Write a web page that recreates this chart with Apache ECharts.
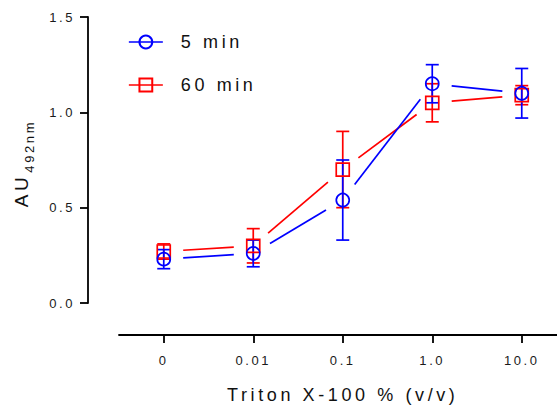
<!DOCTYPE html>
<html><head><meta charset="utf-8">
<script src="https://cdn.jsdelivr.net/npm/echarts@6/dist/echarts.min.js"></script>
<style>
html,body{margin:0;padding:0;background:#fff;}
#chart{width:557px;height:407px;}
#chart text{letter-spacing:0.2em;}
</style></head><body><div id="chart"></div>
<script>
// ---- data ----
const categories = ['0', '0.01', '0.1', '1.0', '10.0'];
const seriesNames = ['5 min', '60 min'];
const mean5 = [0.23, 0.26, 0.54, 1.15, 1.10];
const err5 = [0.05, 0.07, 0.21, 0.10, 0.13];
const mean60 = [0.27, 0.30, 0.70, 1.05, 1.09];
const err60 = [0.04, 0.09, 0.20, 0.10, 0.05];
const yTicks = [0.0, 0.5, 1.0, 1.5];

const BLUE = '#0000ff', RED = '#ff0000';
const FONT = 'Arial, "Liberation Sans", sans-serif';
const LW = 1.7;

function segData(m) { const d = []; for (let i = 0; i < m.length - 1; i++) d.push([i, m[i], m[i + 1]]); return d; }
function errData(m, e) { return m.map((v, i) => [i, v - e[i], v + e[i]]); }

function segRender(color) {
  return function (params, api) {
    const p1 = api.coord([api.value(0), api.value(1)]);
    const p2 = api.coord([api.value(0) + 1, api.value(2)]);
    const dx = p2[0] - p1[0], dy = p2[1] - p1[1], L = Math.hypot(dx, dy);
    const g = 19.5;
    if (L <= 2 * g) return;
    const ux = dx / L, uy = dy / L;
    return { type: 'line', shape: { x1: p1[0] + ux * g, y1: p1[1] + uy * g, x2: p2[0] - ux * g, y2: p2[1] - uy * g },
      style: { stroke: color, lineWidth: LW } };
  };
}
function errRender(color) {
  return function (params, api) {
    const x = api.value(0);
    const lo = api.coord([x, api.value(1)]);
    const hi = api.coord([x, api.value(2)]);
    const h = 6.5, st = { stroke: color, lineWidth: LW };
    return { type: 'group', children: [
      { type: 'line', shape: { x1: lo[0], y1: lo[1], x2: hi[0], y2: hi[1] }, style: st },
      { type: 'line', shape: { x1: lo[0] - h, y1: lo[1], x2: lo[0] + h, y2: lo[1] }, style: st },
      { type: 'line', shape: { x1: hi[0] - h, y1: hi[1], x2: hi[0] + h, y2: hi[1] }, style: st }
    ] };
  };
}

const chart = echarts.init(document.getElementById('chart'), null, { renderer: 'svg' });
chart.setOption({
  animation: false,
  backgroundColor: '#fff',
  textStyle: { fontFamily: FONT },
  grid: { left: 119, width: 447.5, top: 17, height: 286, containLabel: false, outerBoundsMode: 'none' },
  legend: {
    orient: 'vertical', left: 123, top: 28, itemWidth: 34, itemHeight: 16, itemGap: 25,
    data: [
      { name: seriesNames[0], lineStyle: { color: BLUE, width: LW, opacity: 1 } },
      { name: seriesNames[1], lineStyle: { color: RED, width: LW, opacity: 1 } }
    ],
    textStyle: { fontSize: 18, color: '#111', fontFamily: FONT, padding: [0, 0, 0, 13] },
    selectedMode: false
  },
  xAxis: {
    type: 'category', data: categories, offset: 32,
    axisLine: { show: true, onZero: false, lineStyle: { color: '#000', width: 1.8 } },
    axisTick: { show: true, alignWithLabel: true, length: 8, lineStyle: { color: '#000', width: 1.8 } },
    axisLabel: { fontSize: 13, color: '#1a1a1a', margin: 19, fontFamily: FONT },
    splitLine: { show: false },
    name: 'Triton X-100 % (v/v)', nameLocation: 'middle', nameGap: 51,
    nameTextStyle: { fontSize: 18, color: '#111', fontFamily: FONT }
  },
  yAxis: {
    type: 'value', min: yTicks[0], max: yTicks[yTicks.length - 1], interval: yTicks[1] - yTicks[0], offset: 31,
    axisLine: { show: true, onZero: false, lineStyle: { color: '#000', width: 1.8 } },
    axisTick: { show: true, length: 8, lineStyle: { color: '#000', width: 1.8 } },
    axisLabel: { fontSize: 13, color: '#1a1a1a', margin: 13, fontFamily: FONT, formatter: v => v.toFixed(1) },
    splitLine: { show: false },
    name: '{a|AU}{b|492nm}', nameLocation: 'middle', nameGap: 52,
    nameTextStyle: {
      color: '#111', fontFamily: FONT,
      rich: {
        a: { fontSize: 19, lineHeight: 30, verticalAlign: 'middle', fontFamily: FONT, color: '#111' },
        b: { fontSize: 13, lineHeight: 13, verticalAlign: 'bottom', fontFamily: FONT, color: '#111', padding: [0, 10, 0, 11] }
      }
    }
  },
  series: [
    { type: 'line', name: seriesNames[1], data: mean60, symbol: 'rect', symbolSize: 13, showAllSymbol: true,
      lineStyle: { width: 0, color: RED }, itemStyle: { color: 'rgba(0,0,0,0)', borderColor: RED, borderWidth: LW }, z: 6 },
    { type: 'line', name: seriesNames[0], data: mean5, symbol: 'circle', symbolSize: 13, showAllSymbol: true,
      lineStyle: { width: 0, color: BLUE }, itemStyle: { color: 'rgba(0,0,0,0)', borderColor: BLUE, borderWidth: LW }, z: 7 },
    { type: 'custom', name: 'seg60', data: segData(mean60), renderItem: segRender(RED), encode: { x: 0, y: [1, 2] }, z: 2 },
    { type: 'custom', name: 'seg5', data: segData(mean5), renderItem: segRender(BLUE), encode: { x: 0, y: [1, 2] }, z: 3 },
    { type: 'custom', name: 'err60', data: errData(mean60, err60), renderItem: errRender(RED), encode: { x: 0, y: [1, 2] }, z: 4 },
    { type: 'custom', name: 'err5', data: errData(mean5, err5), renderItem: errRender(BLUE), encode: { x: 0, y: [1, 2] }, z: 5 }
  ]
});
</script></body></html>
